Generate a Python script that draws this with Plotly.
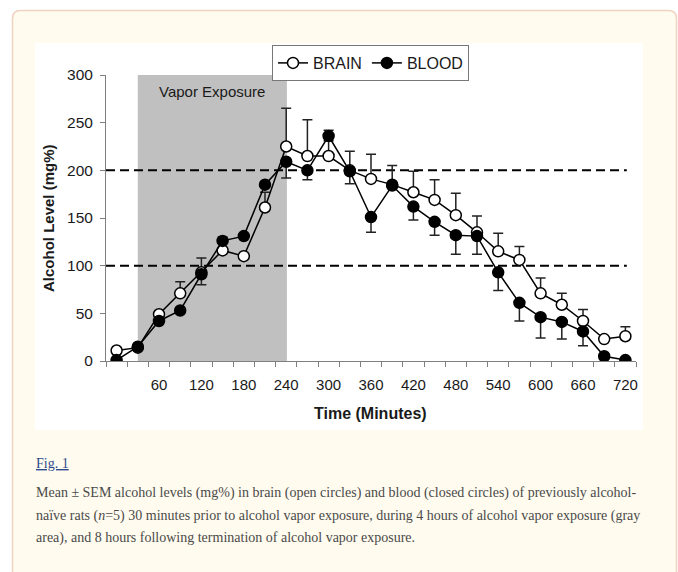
import plotly.graph_objects as go

# ---- data ----
times = [0, 30, 60, 90, 120, 150, 180, 210, 240, 270, 300, 330, 360, 390, 420,
         450, 480, 510, 540, 570, 600, 630, 660, 690, 720]
brain = [11, 14, 49, 71, 93, 116, 110, 161, 225, 215, 215, 200, 191, 185, 177,
         169, 153, 135, 115, 106, 71, 59, 42, 23, 26]
brain_err = [0, 0, 3, 12, 15, 14, 0, 16, 40, 38, 27, 20, 26, 20, 22,
             21, 23, 17, 19, 14, 16, 12, 12, 0, 10]
blood = [1, 15, 42, 53, 91, 126, 131, 185, 209, 200, 236, 199, 151, 184, 162,
         146, 132, 131, 93, 61, 46, 41, 31, 5, 1]
blood_err = [0, 0, 0, 0, 11, 0, 0, 0, 17, 10, 5, 13, 16, 3, 14,
             14, 20, 19, 19, 19, 22, 18, 15, 0, 0]
x_tick_vals = [60, 120, 180, 240, 300, 360, 420, 480, 540, 600, 660, 720]
y_tick_vals = [0, 50, 100, 150, 200, 250, 300]
vapor_start, vapor_end = 30, 241
ref_levels = [100, 200]

caption_lines = [
    "Mean ± SEM alcohol levels (mg%) in brain (open circles) and blood (closed circles) of previously alcohol-",
    "naïve rats (<i>n</i>=5) 30 minutes prior to alcohol vapor exposure, during 4 hours of alcohol vapor exposure (gray",
    "area), and 8 hours following termination of alcohol vapor exposure.",
]

# ---- layout geometry (pixels) ----
W, H = 678, 572
L, R, T, B = 106, 42, 75, 211
PW, PH = W - L - R, H - T - B


def px(x):
    return (x - L) / PW


def py(y):
    return (H - B - y) / PH


FONT = "Liberation Sans, Arial, sans-serif"
SERIF = "Liberation Serif, Times New Roman, serif"
TXT = "#1a1a1a"

fig = go.Figure()

fig.add_trace(go.Scatter(
    x=times, y=brain, name="BRAIN", mode="lines+markers",
    line=dict(color="black", width=1.5),
    marker=dict(symbol="circle", size=11, color="white",
                line=dict(color="black", width=1.5)),
    error_y=dict(type="data", symmetric=False, array=brain_err,
                 arrayminus=[0] * len(brain_err), color="#222222",
                 thickness=1.5, width=5),
))
fig.add_trace(go.Scatter(
    x=times, y=blood, name="BLOOD", mode="lines+markers",
    line=dict(color="black", width=1.5),
    marker=dict(symbol="circle", size=11, color="black",
                line=dict(color="black", width=1.5)),
    error_y=dict(type="data", symmetric=False, array=[0] * len(blood_err),
                 arrayminus=blood_err, color="#222222",
                 thickness=1.5, width=5),
))

shapes = []
# page background: cream rounded panel with tan border
x0, y0, x1, y1, r = 12.5, 10.5, 676.5, 640, 8
path = (f"M {px(x0 + r)},{py(y0)} L {px(x1 - r)},{py(y0)} "
        f"Q {px(x1)},{py(y0)} {px(x1)},{py(y0 + r)} "
        f"L {px(x1)},{py(y1)} L {px(x0)},{py(y1)} "
        f"L {px(x0)},{py(y0 + r)} Q {px(x0)},{py(y0)} {px(x0 + r)},{py(y0)} Z")
shapes.append(dict(type="path", xref="paper", yref="paper", path=path,
                   fillcolor="#FFFBEE", line=dict(color="#F0D2C0", width=1.5),
                   layer="below"))
# white figure image area
shapes.append(dict(type="rect", xref="paper", yref="paper",
                   x0=px(35), x1=px(643), y0=py(430), y1=py(43),
                   fillcolor="white", line=dict(width=0), layer="below"))
# vapor exposure band
shapes.append(dict(type="rect", xref="x", yref="y",
                   x0=vapor_start, x1=vapor_end, y0=0, y1=300,
                   fillcolor="#C0C0C0", line=dict(width=0), layer="below"))
# dashed reference lines
for lv in ref_levels:
    shapes.append(dict(type="line", xref="x", yref="y", x0=-15, x1=722,
                       y0=lv, y1=lv, line=dict(color="black", width=2,
                                               dash="9px,5px"),
                       layer="below"))

annotations = [
    dict(text="Vapor Exposure", xref="x", yref="paper",
         x=(vapor_start + vapor_end) / 2, y=py(91), showarrow=False,
         font=dict(family=FONT, size=15, color=TXT),
         xanchor="center", yanchor="middle"),
    dict(text="<b>Time (Minutes)</b>", xref="paper", yref="paper",
         x=px(370), y=py(413), showarrow=False,
         font=dict(family=FONT, size=16, color=TXT),
         xanchor="center", yanchor="middle"),
    dict(text="<b>Alcohol Level (mg%)</b>", xref="paper", yref="paper",
         x=px(48), y=py(218), showarrow=False, textangle=-90,
         font=dict(family=FONT, size=15, color=TXT),
         xanchor="center", yanchor="middle"),
    dict(text="<u>Fig. 1</u>", xref="paper", yref="paper",
         x=px(34), y=py(463), showarrow=False,
         font=dict(family=SERIF, size=14, color="#2E4A8C"),
         xanchor="left", yanchor="middle"),
]
for i, line in enumerate(caption_lines):
    annotations.append(dict(text=line, xref="paper", yref="paper",
                            x=px(34), y=py(493 + 22.5 * i), showarrow=False,
                            font=dict(family=SERIF, size=14, color="#4a4a4a"),
                            xanchor="left", yanchor="middle"))

fig.update_layout(
    width=W, height=H,
    margin=dict(l=L, r=R, t=T, b=B, pad=0),
    paper_bgcolor="white", plot_bgcolor="white",
    shapes=shapes, annotations=annotations,
    showlegend=True,
    legend=dict(orientation="h", x=px(272), y=py(45), xanchor="left",
                yanchor="top", bgcolor="white", bordercolor="#777777",
                borderwidth=1, font=dict(family=FONT, size=16, color=TXT),
                itemwidth=30, tracegroupgap=0),
    xaxis=dict(range=[-15, 735], tickmode="array", tickvals=x_tick_vals,
               ticks="outside", ticklen=5, tickcolor="rgba(0,0,0,0)",
               ticklabelstandoff=5,
               showline=True, linecolor="#808080", linewidth=1,
               showgrid=False, zeroline=False,
               tickfont=dict(family=FONT, size=15, color=TXT),
               minor=dict(ticks="outside", ticklen=5, tickcolor="#808080",
                          tick0=-15, dtick=30, showgrid=False)),
    yaxis=dict(range=[0, 300], tickmode="array", tickvals=y_tick_vals,
               ticks="outside", ticklen=5, tickcolor="#808080",
               ticklabelstandoff=4,
               showline=True, linecolor="#808080", linewidth=1,
               showgrid=False, zeroline=False,
               tickfont=dict(family=FONT, size=15.5, color=TXT)),
)

fig.write_html("out.html")
